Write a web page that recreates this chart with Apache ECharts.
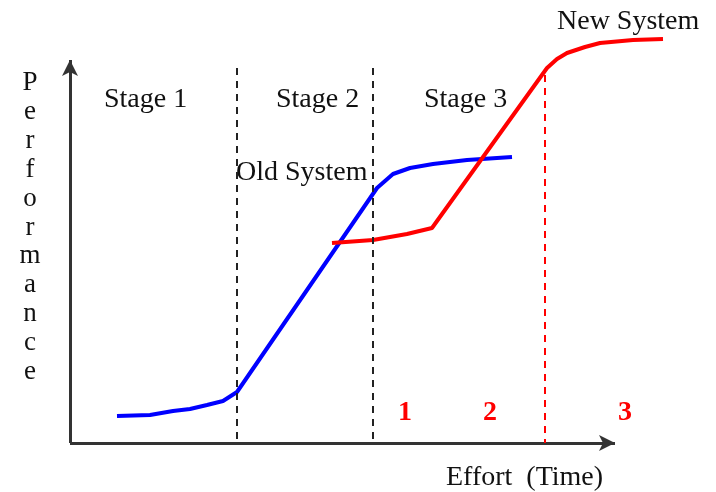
<!DOCTYPE html>
<html><head><meta charset="utf-8">
<script src="https://cdn.jsdelivr.net/npm/echarts@6/dist/echarts.min.js"></script>
<style>html,body{margin:0;padding:0;background:#fff}#c{width:716px;height:492px}</style>
</head><body><div id="c"></div>
<script>
// Data in arbitrary effort/performance units
const oldSystem = [[47,27],[80,28],[103,32],[120,34],[137,38],[153,42],[167,51],[307,255],[315,262],[323,269],[340,275],[363,279],[397,283],[442,286]];
const newSystem = [[262,200],[303,203],[337,209],[362,215],[477,375],[487,384],[497,390],[515,396],[530,400],[563,403],[593,404]];
const stageBoundaries = [167, 303];
const newBoundary = 475;
const newBoundaryTop = 368;
const axisEndX = 545;
const axisEndY = 383;
const stageLabels = ['Stage 1','Stage 2','Stage 3'];
const phaseLabels = ['1','2','3'];

const chart = echarts.init(document.getElementById('c'));
const serif = 'Liberation Serif';
const txt = (t, x, y, opt={}) => ({type:'text', style:Object.assign({text:t, x:x, y:y, font:`28px "${serif}"`, fill:'#111', verticalAlign:'middle'}, opt)});
const graphics = [];
const stageX = [104, 276, 424];
stageLabels.forEach((s,i)=>graphics.push(txt(s, stageX[i], 100)));
graphics.push(txt('Old System', 236, 173));
graphics.push(txt('New System', 557, 22));
graphics.push(txt('Effort  (Time)', 446, 478));
const phaseX = [405, 490, 625];
phaseLabels.forEach((s,i)=>graphics.push(txt(s, phaseX[i], 413, {font:`bold 28px "${serif}"`, fill:'#ff0000', align:'center'})));
'Performance'.split('').forEach((ch,i)=>graphics.push(txt(ch, 30, 83+i*28.9, {align:'center', font:`27px "${serif}"`})));

chart.setOption({
  animation:false,
  grid:{left:70, right:36, top:30, bottom:49},
  xAxis:{type:'value', min:0, max:610, show:false},
  yAxis:{type:'value', min:0, max:413, show:false},
  graphic: graphics,
  series:[
    {type:'line', data:[], silent:true,
      markLine:{silent:true, symbol:['none','arrow'], symbolSize:[12,16], label:{show:false},
        lineStyle:{color:'#333', type:'solid', width:3},
        data:[[{coord:[0,0]},{coord:[axisEndX,0]}],[{coord:[0,0]},{coord:[0,axisEndY]}]]}},
    {type:'line', data:oldSystem, showSymbol:false, clip:false, lineStyle:{color:'#0000ff', width:4},
      markLine:{silent:true, symbol:['none','none'], label:{show:false},
        lineStyle:{color:'#222', type:[7,6], width:2},
        data: stageBoundaries.map(v=>[{coord:[v,375]},{coord:[v,0]}])}},
    {type:'line', data:newSystem, showSymbol:false, clip:false, lineStyle:{color:'#ff0000', width:4},
      markLine:{silent:true, symbol:['none','none'], label:{show:false},
        lineStyle:{color:'#ff0000', type:[7,6], width:2},
        data:[[{coord:[newBoundary,newBoundaryTop]},{coord:[newBoundary,0]}]]}}
  ]
});
</script></body></html>
